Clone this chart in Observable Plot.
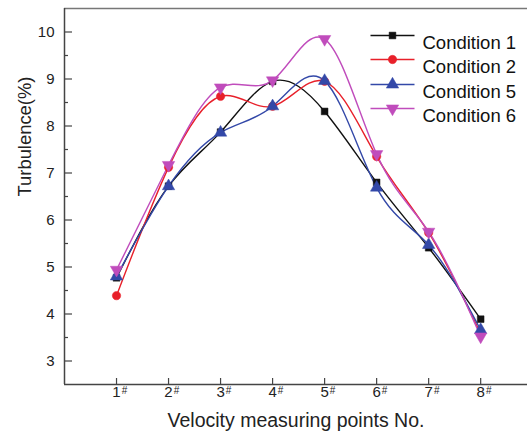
<!DOCTYPE html>
<html>
<head>
<meta charset="utf-8">
<script src="https://cdn.jsdelivr.net/npm/d3@7"></script>
<script src="https://cdn.jsdelivr.net/npm/@observablehq/plot@0.6"></script>
<style>
  html, body { margin: 0; padding: 0; background: #fff; }
  #chart svg { display: block; font-family: "Liberation Sans", Arial, sans-serif; }
</style>
</head>
<body>
<div id="chart"></div>
<script>
const points = [1, 2, 3, 4, 5, 6, 7, 8];
const conditionNames = ["Condition 1", "Condition 2", "Condition 5", "Condition 6"];
const cond1 = [4.77, 6.72, 7.87, 8.95, 8.31, 6.80, 5.41, 3.89];
const cond2 = [4.39, 7.12, 8.63, 8.42, 8.95, 7.35, 5.73, 3.58];
const cond5 = [4.80, 6.72, 7.86, 8.42, 8.96, 6.69, 5.47, 3.66];
const cond6 = [4.94, 7.17, 8.82, 8.97, 9.85, 7.40, 5.75, 3.52];
const yMajorTicks = [3, 4, 5, 6, 7, 8, 9, 10];
const yMinorTicks = [3.5, 4.5, 5.5, 6.5, 7.5, 8.5, 9.5];
const xTickLabels = ["1", "2", "3", "4", "5", "6", "7", "8"];

const colors = ["#111111", "#e8202a", "#3348a8", "#c04cbc"];

const triangleDown = {
  draw(ctx, size) {
    const a = Math.sqrt(4 * size / Math.sqrt(3));
    const h = a * Math.sqrt(3) / 2;
    ctx.moveTo(-a / 2, -h / 3);
    ctx.lineTo(a / 2, -h / 3);
    ctx.lineTo(0, 2 * h / 3);
    ctx.closePath();
  }
};
const hline = {
  draw(ctx, size) {
    ctx.moveTo(-22, 0);
    ctx.lineTo(22, 0);
  }
};
const symbols = ["square", "circle", "triangle", triangleDown];
const radii = [3.8, 4.2, 4.6, 4.6];

const series = [cond1, cond2, cond5, cond6];
const rows = [];
series.forEach((vals, i) => {
  vals.forEach((v, j) => rows.push({point: points[j], value: v, cond: conditionNames[i], idx: i}));
});

const W = 529, H = 441;
const mL = 64, mR = 2, mT = 8, mB = 57;
const frameW = W - mL - mR, frameH = H - mT - mB;

const marks = [
  // frame lines
  Plot.ruleY([10.5], {stroke: "#777", strokeWidth: 1.5}),
  Plot.ruleX([0], {stroke: "#444", strokeWidth: 1.5}),
  Plot.ruleY([2.5], {stroke: "#444", strokeWidth: 1.5}),
  // inward ticks
  Plot.tickY(yMajorTicks, {y: d => d, insetRight: frameW - 8, stroke: "#444", strokeWidth: 1.2}),
  Plot.tickY(yMinorTicks, {y: d => d, insetRight: frameW - 4, stroke: "#444", strokeWidth: 1.2}),
  Plot.tickX(points, {x: d => d, insetTop: frameH - 6, stroke: "#444", strokeWidth: 1.2}),
  // y labels
  Plot.axisY({ticks: yMajorTicks, tickSize: 0, tickPadding: 10, fontSize: 15, label: null, fill: "#222"}),
  // x labels with superscript #
  Plot.text(points, {x: d => d, text: (d, i) => xTickLabels[i], frameAnchor: "bottom", dy: 12, fontSize: 15, fill: "#222", dx: 0}),
  Plot.text(points, {x: d => d, text: () => "#", frameAnchor: "bottom", dy: 9, dx: 8, fontSize: 10, fill: "#222"}),
  // axis titles
  Plot.text(["Velocity measuring points No."], {frameAnchor: "bottom", dy: 42, fontSize: 19.5, fill: "#222"}),
  Plot.text(["Turbulence(%)"], {frameAnchor: "left", dx: -39, rotate: -90, fontSize: 18.4, fill: "#222"})
];

series.forEach((vals, i) => {
  const data = rows.filter(r => r.idx === i);
  marks.push(Plot.line(data, {x: "point", y: "value", curve: "natural", stroke: colors[i], strokeWidth: 1.4}));
});
series.forEach((vals, i) => {
  const data = rows.filter(r => r.idx === i);
  marks.push(Plot.dot(data, {x: "point", y: "value", symbol: symbols[i], r: radii[i], fill: colors[i], stroke: colors[i], strokeWidth: 0.5}));
});

// legend
const legendDy = [27, 51, 76, 100];
conditionNames.forEach((name, i) => {
  marks.push(Plot.dot([name], {frameAnchor: "top-left", dx: 328, dy: legendDy[i], symbol: hline, stroke: colors[i], fill: "none", strokeWidth: 1.4}));
  marks.push(Plot.dot([name], {frameAnchor: "top-left", dx: 328, dy: legendDy[i], symbol: symbols[i], r: radii[i], fill: colors[i], stroke: colors[i], strokeWidth: 0.5}));
  marks.push(Plot.text([name], {frameAnchor: "top-left", dx: 358, dy: legendDy[i], text: d => d, textAnchor: "start", fontSize: 18.5, fill: "#111"}));
});

const chart = Plot.plot({
  width: W,
  height: H,
  marginLeft: mL,
  marginRight: mR,
  marginTop: mT,
  marginBottom: mB,
  style: {fontFamily: "'Liberation Sans', Arial, sans-serif", background: "#fff"},
  x: {domain: [0, 8.9], axis: null},
  y: {domain: [2.5, 10.5], axis: null},
  marks
});
document.getElementById("chart").appendChild(chart);
</script>
</body>
</html>
